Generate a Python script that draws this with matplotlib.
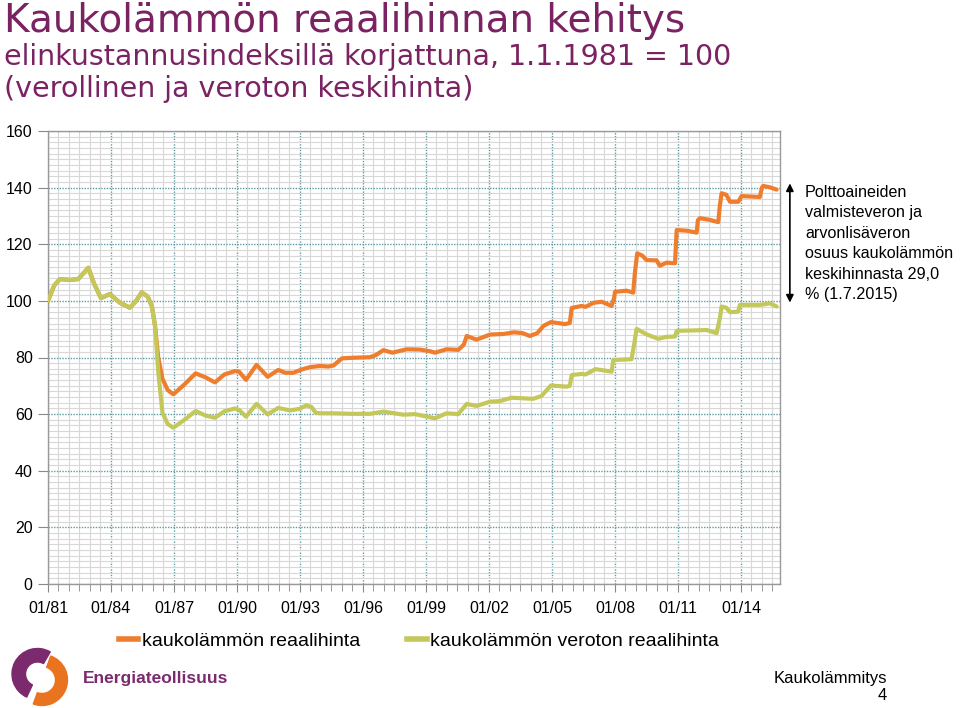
import matplotlib
matplotlib.use('Agg')
import matplotlib.pyplot as plt
from matplotlib.ticker import MultipleLocator
from matplotlib.patches import Wedge
from matplotlib.lines import Line2D
import numpy as np

# data (decimal years, index 1.1.1981 = 100)
years_tax = [1981.0, 1981.3, 1981.57, 1982.05, 1982.44, 1982.92, 1983.2, 1983.52, 1983.95,
             1984.43, 1984.9, 1985.2, 1985.46, 1985.75, 1985.95, 1986.1, 1986.25, 1986.45,
             1986.7, 1986.97, 1987.5, 1988.03, 1988.5, 1988.95, 1989.4, 1989.9, 1990.1,
             1990.43, 1990.93, 1991.46, 1991.97, 1992.3, 1992.68, 1993.1, 1993.48, 1993.95,
             1994.35, 1994.6, 1995.0, 1995.5, 1996.33, 1996.6, 1996.97, 1997.4, 1998.08,
             1998.71, 1999.2, 1999.43, 1999.98, 2000.54, 2000.8, 2000.94, 2001.41, 2002.05,
             2002.68, 2003.2, 2003.6, 2003.95, 2004.3, 2004.6, 2004.95, 2005.62, 2005.85,
             2005.94, 2006.41, 2006.6, 2006.97, 2007.37, 2007.84, 2007.96, 2008.0, 2008.56,
             2008.87, 2008.95, 2009.06, 2009.3, 2009.51, 2009.98, 2010.14, 2010.46, 2010.86,
             2010.94, 2011.41, 2011.89, 2011.95, 2012.05, 2012.52, 2012.92, 2013.0, 2013.08,
             2013.3, 2013.48, 2013.87, 2014.03, 2014.9, 2015.0, 2015.06, 2015.38, 2015.7]
price_tax = [100, 105.5, 107.7, 107.4, 107.7, 111.7, 106, 101, 102.4,
             99.3, 97.6, 100, 103, 101.5, 98, 91, 80, 72.5,
             68.5, 67.0, 70.5, 74.4, 73, 71.2, 74, 75.2, 75,
             72.1, 77.4, 73.2, 75.6, 74.6, 74.6, 75.8, 76.6, 77.0,
             76.8, 77.2, 79.7, 79.9, 80.1, 80.8, 82.6, 81.7, 82.9,
             82.8, 82.2, 81.7, 82.9, 82.7, 84.5, 87.6, 86.3, 88.1,
             88.3, 88.9, 88.6, 87.6, 88.6, 91.2, 92.5, 91.8, 92.2,
             97.5, 98.2, 97.9, 99.3, 99.7, 98.2, 101, 103.2, 103.6,
             102.9, 110, 116.8, 116, 114.4, 114.3, 112.4, 113.5, 113.3,
             125, 124.8, 124.1, 128.5, 129.2, 128.6, 127.8, 134, 138.0,
             137.5, 135.0, 135.0, 137.0, 136.7, 140, 140.6, 140.1, 139.3]

years_notax = [1981.0, 1981.3, 1981.57, 1982.05, 1982.44, 1982.92, 1983.2, 1983.52, 1983.95,
               1984.43, 1984.9, 1985.2, 1985.46, 1985.75, 1985.95, 1986.1, 1986.25, 1986.45,
               1986.7, 1986.97, 1987.5, 1988.03, 1988.5, 1988.95, 1989.4, 1989.9, 1990.1,
               1990.43, 1990.93, 1991.46, 1991.97, 1992.52, 1993.0, 1993.3, 1993.55, 1993.75,
               1993.95, 1994.5, 1995.5, 1996.33, 1996.97, 1997.4, 1997.92, 1998.48, 1999.0,
               1999.43, 1999.98, 2000.54, 2000.94, 2001.41, 2002.05, 2002.52, 2003.08, 2003.6,
               2004.1, 2004.5, 2004.95, 2005.7, 2005.85, 2005.94, 2006.41, 2006.6, 2007.07,
               2007.84, 2007.92, 2008.79, 2008.9, 2009.03, 2009.5, 2010.06, 2010.46, 2010.86,
               2010.94, 2012.37, 2012.84, 2013.0, 2013.08, 2013.3, 2013.48, 2013.87, 2013.95,
               2014.9, 2015.38, 2015.7]
price_notax = [100, 105.5, 107.7, 107.4, 107.7, 111.7, 106, 101, 102.4,
               99.3, 97.6, 100, 103, 101.5, 98, 91, 75, 60.5,
               56.5, 55.2, 58, 61.1, 59.5, 58.7, 61, 62, 61.5,
               59.1, 63.6, 59.9, 62.2, 61.3, 61.9, 63.1, 62.5, 60.5,
               60.3, 60.3, 60.1, 60.1, 60.9, 60.4, 59.8, 60.0, 59.2,
               58.5, 60.3, 60.0, 63.6, 62.9, 64.4, 64.6, 65.8, 65.6,
               65.4, 66.4, 70.1, 69.7, 70, 73.8, 74.2, 74.0, 75.9,
               75.0, 79.1, 79.4, 84, 90.1, 88.2, 86.6, 87.3, 87.4,
               89.4, 89.7, 88.6, 94, 98.0, 97.6, 96.0, 96.2, 98.6,
               98.6, 99.1, 98.0]

tick_years = list(range(1981, 2016, 3))
tick_labels = [f"01/{y % 100:02d}" for y in tick_years]
series_names = ['kaukolämmön reaalihinta', 'kaukolämmön veroton reaalihinta']
note = ('Polttoaineiden\nvalmisteveron ja\narvonlisäveron\nosuus kaukolämmön\n'
        'keskihinnasta 29,0\n% (1.7.2015)')

orange = '#EE7E2E'
green = '#C4C85A'
purple = '#7A2262'
teal = '#5E9CA4'
sans = 'Liberation Sans'

fig = plt.figure(figsize=(9.6, 7.08), dpi=100)

# titles
fig.text(0.004, 1 - 32/708, 'Kaukolämmön reaalihinnan kehitys', color=purple,
         fontsize=28, va='baseline', ha='left')
fig.text(0.004, 1 - 65/708, 'elinkustannusindeksillä korjattuna, 1.1.1981 = 100', color=purple,
         fontsize=20.5, va='baseline', ha='left')
fig.text(0.004, 1 - 97/708, '(verollinen ja veroton keskihinta)', color=purple,
         fontsize=20.5, va='baseline', ha='left')

ax = fig.add_axes([48/960, 1 - 584/708, 732/960, 453/708])
ax.plot(years_tax, price_tax, color=orange, lw=3.0, solid_joinstyle='round',
        solid_capstyle='round', zorder=3)
ax.plot(years_notax, price_notax, color=green, lw=3.0, solid_joinstyle='round',
        solid_capstyle='round', zorder=4)

ax.set_xlim(1981, 2015.86)
ax.set_ylim(0, 160)
ax.set_xticks(tick_years)
ax.set_xticklabels(tick_labels, family=sans, fontsize=11.5)
ax.xaxis.set_minor_locator(MultipleLocator(0.5))
ax.set_yticks(np.arange(0, 161, 20))
ax.set_yticklabels([str(v) for v in range(0, 161, 20)], family=sans, fontsize=11.5)
ax.yaxis.set_minor_locator(MultipleLocator(2))

ax.grid(which='minor', color='#d8d8d8', lw=0.8, zorder=0)
ax.grid(which='major', color=teal, lw=1.0, linestyle=(0, (1, 1)), zorder=1)
ax.set_axisbelow(True)
ax.tick_params(axis='x', which='major', length=6, color='#888888', pad=6)
ax.tick_params(axis='x', which='minor', length=5, color='#888888')
ax.tick_params(axis='y', which='major', length=7, color='#888888', pad=4)
ax.tick_params(axis='y', which='minor', length=0)
for s in ax.spines.values():
    s.set_color('#999999')
    s.set_linewidth(1.0)

# tax share arrow and note
ax.annotate('', xy=(2016.33, 99.4), xytext=(2016.33, 141.5), annotation_clip=False,
            arrowprops=dict(arrowstyle='<|-|>', color='black', lw=1.2,
                            mutation_scale=11, shrinkA=0, shrinkB=0))
fig.text(805/960, 1 - 185/708, note, family=sans, fontsize=11.6,
         va='top', ha='left', linespacing=1.45)

# legend
handles = [Line2D([], [], color=orange, lw=4), Line2D([], [], color=green, lw=4)]
fig.legend(handles, series_names, loc='center', bbox_to_anchor=(0.4365, 0.094),
           ncol=2, frameon=False, handlelength=1.0, handletextpad=0.2,
           columnspacing=2.4, prop={'family': sans, 'size': 14})

# logo
lax = fig.add_axes([6/960, 1/708, 66/960, 60/708])
lax.set_xlim(-1.1, 1.1)
lax.set_ylim(-1.0, 1.0)
lax.set_aspect('equal')
lax.axis('off')
lax.add_patch(Wedge((-0.05, 0.1), 0.85, 60, 245, width=0.45, color='#7B2A6E'))
lax.add_patch(Wedge((0.1, -0.1), 0.85, -110, 70, width=0.4, color='#E9731F'))
fig.text(83/960, 1 - 678/708, 'Energiateollisuus', color='#7B2A6E', family=sans,
         fontsize=12.5, fontweight='bold', va='center', ha='left')

fig.text(887/960, 1 - 678/708, 'Kaukolämmitys', family=sans, fontsize=12,
         va='center', ha='right')
fig.text(887/960, 1 - 695/708, '4', family=sans, fontsize=12, va='center', ha='right')

fig.savefig('out.png', dpi=100)
